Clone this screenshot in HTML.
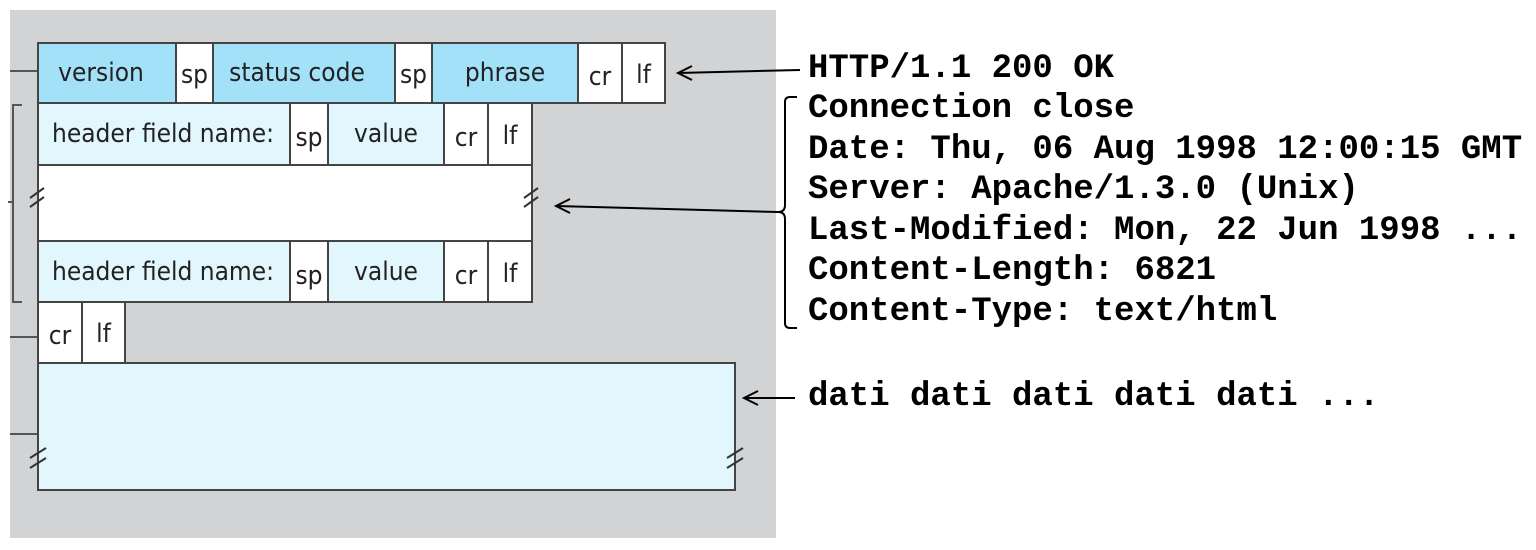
<!DOCTYPE html>
<html><head><meta charset="utf-8"><style>
html,body{margin:0;padding:0;background:#fff;}
svg{display:block}
</style></head><body>
<svg width="1536" height="550" viewBox="0 0 1536 550" xmlns="http://www.w3.org/2000/svg">
<rect x="10" y="10" width="766" height="528" fill="#d1d3d5"/>
<g stroke="#555" stroke-width="2" fill="none">
<line x1="10" y1="71" x2="38" y2="71"/>
<polyline points="22,105 13,105 13,302 22,302"/>
<line x1="8" y1="202" x2="13" y2="202"/>
<line x1="10" y1="337" x2="38" y2="337"/>
<line x1="10" y1="434" x2="38" y2="434"/>
</g>
<g stroke="#444" stroke-width="2">
<rect x="38" y="43" width="138" height="60" fill="#a3e1f8"/>
<rect x="176" y="43" width="37" height="60" fill="#fff"/>
<rect x="213" y="43" width="182" height="60" fill="#a3e1f8"/>
<rect x="395" y="43" width="37" height="60" fill="#fff"/>
<rect x="432" y="43" width="146" height="60" fill="#a3e1f8"/>
<rect x="578" y="43" width="44" height="60" fill="#fff"/>
<rect x="622" y="43" width="43" height="60" fill="#fff"/>
<rect x="38" y="103" width="252" height="62" fill="#e1f7fd"/>
<rect x="290" y="103" width="38" height="62" fill="#fff"/>
<rect x="328" y="103" width="116" height="62" fill="#e1f7fd"/>
<rect x="444" y="103" width="44" height="62" fill="#fff"/>
<rect x="488" y="103" width="44" height="62" fill="#fff"/>
<rect x="38" y="165" width="494" height="76" fill="#fff"/>
<rect x="38" y="241" width="252" height="61" fill="#e1f7fd"/>
<rect x="290" y="241" width="38" height="61" fill="#fff"/>
<rect x="328" y="241" width="116" height="61" fill="#e1f7fd"/>
<rect x="444" y="241" width="44" height="61" fill="#fff"/>
<rect x="488" y="241" width="44" height="61" fill="#fff"/>
<rect x="38" y="302" width="44" height="61" fill="#fff"/>
<rect x="82" y="302" width="43" height="61" fill="#fff"/>
<rect x="38" y="363" width="697" height="127" fill="#e1f7fd"/>
</g>
<g stroke="#333" stroke-width="2">
<line x1="30" y1="198" x2="44" y2="188"/><line x1="30" y1="207" x2="44" y2="197"/>
<line x1="524" y1="198" x2="538" y2="188"/><line x1="524" y1="207" x2="538" y2="197"/>
<line x1="30" y1="458" x2="46" y2="448"/><line x1="30" y1="468" x2="46" y2="458"/>
<line x1="727" y1="458" x2="743" y2="448"/><line x1="727" y1="468" x2="743" y2="458"/>
</g>
<g font-family="'DejaVu Sans Condensed','Liberation Sans Narrow','Liberation Sans',sans-serif" font-size="26" fill="#222" text-anchor="middle">
<text x="101" y="81">version</text>
<text x="194.5" y="83">sp</text>
<text x="297" y="81">status code</text>
<text x="413.5" y="83">sp</text>
<text x="505" y="81">phrase</text>
<text x="600" y="85">cr</text>
<text x="643.5" y="83">lf</text>
<text x="163" y="142">header field name:</text>
<text x="309" y="146">sp</text>
<text x="386" y="142">value</text>
<text x="466" y="146">cr</text>
<text x="510" y="144">lf</text>
<text x="163" y="280">header field name:</text>
<text x="309" y="284">sp</text>
<text x="386" y="280">value</text>
<text x="466" y="284">cr</text>
<text x="510" y="282">lf</text>
<text x="60" y="344">cr</text>
<text x="103.5" y="342">lf</text>
</g>
<g stroke="#000" stroke-width="2" fill="none">
<line x1="800" y1="70" x2="678" y2="73"/>
<polyline points="692,66 678,73 692,80"/>
<path d="M797,97 H790 Q785,97 785,102 V205 Q785,212 778,212 Q785,212 785,219 V323 Q785,328 790,328 H797"/>
<line x1="778" y1="212" x2="556" y2="206"/>
<polyline points="570,199 556,206 570,213"/>
<line x1="795" y1="398" x2="744" y2="398"/>
<polyline points="758,391 744,398 758,405"/>
</g>
<g font-family="'Liberation Mono',monospace" font-weight="bold" font-size="34" fill="#000">
<text x="808" y="77">HTTP/1.1 200 OK</text>
<text x="808" y="117">Connection close</text>
<text x="808" y="158">Date: Thu, 06 Aug 1998 12:00:15 GMT</text>
<text x="808" y="198">Server: Apache/1.3.0 (Unix)</text>
<text x="808" y="239">Last-Modified: Mon, 22 Jun 1998 ...</text>
<text x="808" y="279">Content-Length: 6821</text>
<text x="808" y="320">Content-Type: text/html</text>
<text x="808" y="405">dati dati dati dati dati ...</text>
</g>
</svg>
</body></html>
